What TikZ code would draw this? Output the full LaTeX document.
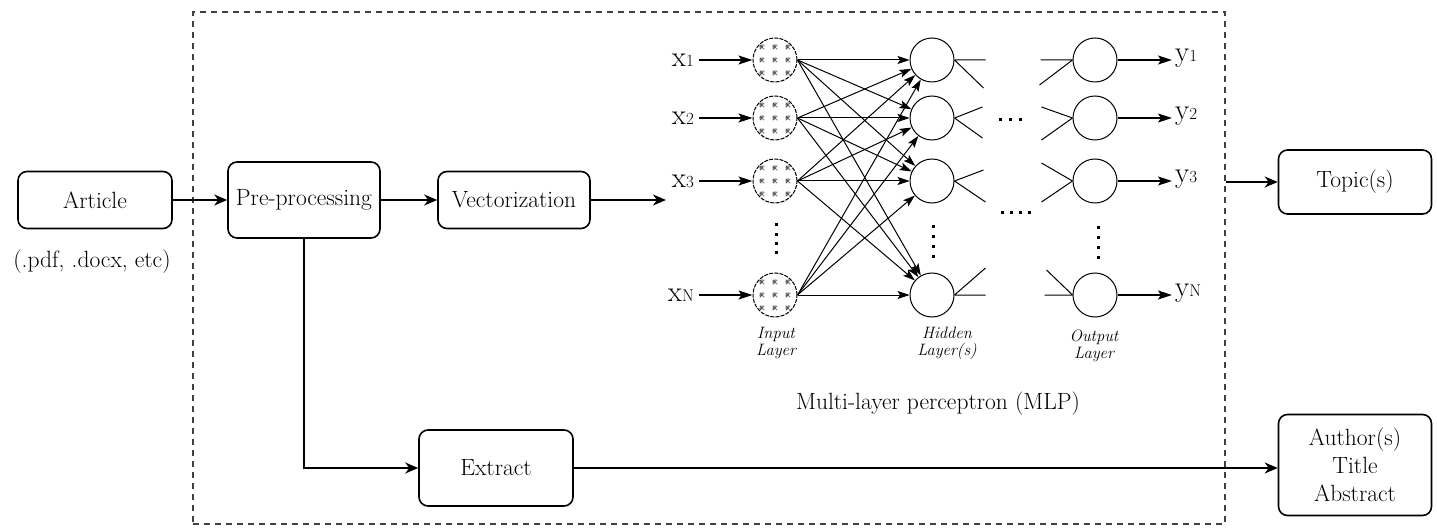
\documentclass[tikz,border=0pt]{standalone}
\usepackage{fontspec}
\usetikzlibrary{arrows.meta}
\newcommand{\sublab}[2]{{\fontsize{29}{29}\selectfont #1}{\fontsize{17}{17}\selectfont #2}}
\begin{document}
\begin{tikzpicture}[x=1pt,y=-1pt,
  box/.style={draw, line width=1.6pt, rounded corners=9pt, align=center,
    font=\fontsize{23.5}{28}\selectfont, inner sep=0pt},
  flow/.style={line width=1.6pt, -{Stealth[length=13pt,width=11pt,inset=4pt]}},
  nnarrow/.style={line width=1pt, -{Stealth[length=12pt,width=8pt,inset=2.5pt]}},
  bigarrow/.style={line width=1.2pt, -{Stealth[length=14pt,width=9pt,inset=3pt]}},
  stub/.style={line width=1pt},
  inneuron/.style={circle, draw, dash pattern=on 4pt off 1.2pt, line width=1pt, minimum size=44pt, inner sep=0pt,
    path picture={
      \foreach \i in {-13,0,13} \foreach \j in {-13,0,13} {
        \draw[black!65, line width=1pt]
          ([shift={(\i-2.2,\j-2.2)}]path picture bounding box.center) -- ++(4.4,4.4)
          ([shift={(\i-2.2,\j+2.2)}]path picture bounding box.center) -- ++(4.4,-4.4)
          ([shift={(\i-2.6,\j)}]path picture bounding box.center) -- ++(5.2,0)
          ([shift={(\i,\j-2.6)}]path picture bounding box.center) -- ++(0,5.2);
      }}},
  neuron/.style={circle, draw, line width=1pt, minimum size=44pt, inner sep=0pt},
  lab/.style={inner sep=0pt},
  layerlab/.style={font=\fontsize{16.5}{17}\selectfont\itshape, align=center, inner sep=0pt},
  dotm/.style={fill=black, inner sep=0pt, minimum size=3pt, rectangle}
]
\useasboundingbox (0,0) rectangle (1437,529);

% frame
\node[draw=black!75, dashed, dash pattern=on 6pt off 5pt, line width=1.5pt,
  minimum width=1032pt, minimum height=512pt, inner sep=0pt] (frame) at (709,268) {};

% boxes
\node[box, minimum width=154pt, minimum height=57pt] (article) at (95,200) {Article};
\node[font=\fontsize{23.5}{24}\selectfont, inner sep=0pt] (fmt) at (92,262) {(.pdf, .docx, etc)};
\node[box, minimum width=152pt, minimum height=76pt] (pre) at (304,200) {Pre-processing};
\node[box, minimum width=152pt, minimum height=57pt] (vec) at (514,200) {Vectorization};
\node[box, minimum width=154pt, minimum height=76pt] (ext) at (496,468) {Extract};
\node[box, minimum width=153pt, minimum height=64pt] (topic) at (1355,182) {Topic(s)};
\node[box, minimum width=153pt, minimum height=101pt] (auth) at (1355,465) {Author(s)\\Title\\Abstract};
\node[font=\fontsize{23.5}{24}\selectfont, inner sep=0pt] (mlp) at (938,404) {Multi-layer perceptron (MLP)};

\coordinate (vin) at (666,200);
\draw[flow] (article) -- (pre);
\draw[flow] (pre) -- (vec);
\draw[flow] (vec) -- (vin);
\draw[flow] (pre.south) |- (ext.west);
\draw[flow] (ext.east) -- (ext.east -| auth.west);
\draw[flow] (frame.east |- topic) -- (topic.west);

% MLP neurons
\foreach \k/\yy in {1/60,2/118,3/181,4/295} {
  \node[inneuron] (in\k) at (775,\yy) {};
  \node[neuron] (h\k) at (932,\yy) {};
  \node[neuron] (o\k) at (1095,\yy) {};
}
\node[lab, anchor=east] (x1) at (694,60) {\sublab{x}{1}};
\node[lab, anchor=east] (x2) at (694,118) {\sublab{x}{2}};
\node[lab, anchor=east] (x3) at (694,181) {\sublab{x}{3}};
\node[lab, anchor=east] (x4) at (694,295) {\sublab{x}{N}};
\node[lab, anchor=west] (y1) at (1175,58) {\sublab{y}{1}};
\node[lab, anchor=west] (y2) at (1175,116) {\sublab{y}{2}};
\node[lab, anchor=west] (y3) at (1175,179) {\sublab{y}{3}};
\node[lab, anchor=west] (y4) at (1175,293) {\sublab{y}{N}};

\foreach \k in {1,2,3,4} {
  \draw[bigarrow] ([xshift=5pt]x\k.east |- in\k) -- (in\k.west);
  \draw[bigarrow] (o\k.east) -- ([xshift=-3pt]o\k.east -| y\k.west);
  \foreach \j in {1,2,3,4} {
    \draw[nnarrow] (in\k.east) -- (h\j);
  }
}

% hidden outgoing stubs
\draw[stub] (h1.east) -- ++(31,0) (h1.east) -- ++(29,28);
\draw[stub] (h2.east) -- ++(28,-11) (h2.east) -- ++(28,20);
\draw[stub] (h3.east) -- ++(29,-11) (h3.east) -- ++(31,21);
\draw[stub] (h4.east) -- ++(31,-27) (h4.east) -- ++(31,0);
% output incoming stubs
\draw[stub] (o1.west) -- ++(-32,0) (o1.west) -- ++(-33,25);
\draw[stub] (o2.west) -- ++(-31,-11) (o2.west) -- ++(-31,22);
\draw[stub] (o3.west) -- ++(-31,-18) (o3.west) -- ++(-31,21);
\draw[stub] (o4.west) -- ++(-26,-25) (o4.west) -- ++(-28,0);

% dots
\foreach \yy in {225,235,244,253} { \node[dotm] (di\yy) at (776,\yy) {}; }
\foreach \yy in {227,237,247,257} { \node[dotm] (dh\yy) at (933,\yy) {}; }
\foreach \yy in {228,238,248,258} { \node[dotm] (do\yy) at (1098,\yy) {}; }
\foreach \xx in {1000,1010,1020} { \node[dotm] (da\xx) at (\xx,120) {}; }
\foreach \xx in {1002,1011,1020,1029} { \node[dotm] (db\xx) at (\xx,213) {}; }

% layer labels
\node[layerlab] (il) at (776,343) {Input\\Layer};
\node[layerlab] (hl) at (947,343) {Hidden\\Layer(s)};
\node[layerlab] (ol) at (1094,346) {Output\\Layer};
\end{tikzpicture}
\end{document}
